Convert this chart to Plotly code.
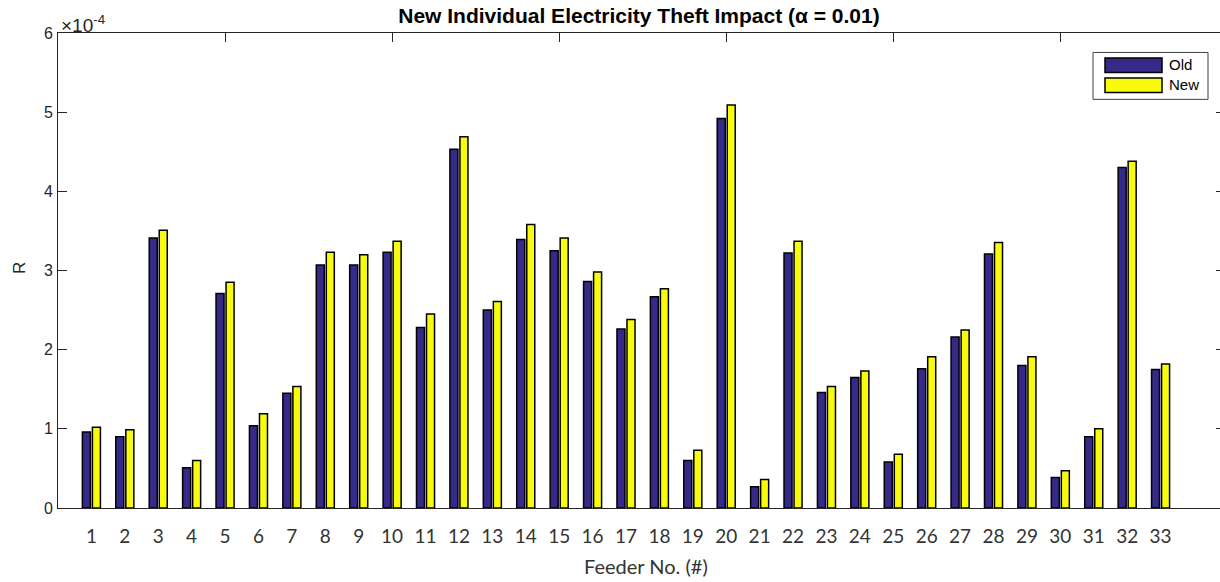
import plotly.graph_objects as go

# Feeder numbers and impact ratio R for the old and new schemes
feeders = list(range(1, 34))
r_old = [0.96, 0.90, 3.41, 0.51, 2.71, 1.04, 1.45, 3.07, 3.07, 3.23,
         2.28, 4.53, 2.50, 3.39, 3.25, 2.86, 2.26, 2.67, 0.60, 4.92,
         0.27, 3.22, 1.46, 1.65, 0.58, 1.76, 2.16, 3.21, 1.80, 0.385,
         0.90, 4.30, 1.75]
r_new = [1.02, 0.99, 3.51, 0.60, 2.85, 1.19, 1.535, 3.23, 3.20, 3.37,
         2.45, 4.69, 2.61, 3.58, 3.41, 2.98, 2.38, 2.77, 0.73, 5.09,
         0.36, 3.37, 1.535, 1.73, 0.68, 1.91, 2.25, 3.355, 1.91, 0.47,
         1.00, 4.38, 1.82]
scale = 1e-4
r_old = [v * scale for v in r_old]
r_new = [v * scale for v in r_new]

y_ticks = [0, 1, 2, 3, 4, 5, 6]
top_ticks = [5, 10, 15, 20, 25, 30]

NAVY = "#352A87"
YELLOW = "#F9FB0E"
AXIS = "#262626"
ARIAL = "Liberation Sans, Arial, sans-serif"
LABEL_FONT = "Lato, Open Sans, sans-serif"

W, H = 1220, 582
L, R_, T, B = 58, 0, 32.5, 73.5
plot_w = W - L - R_
plot_h = H - T - B


def px(x):
    return (x - L) / plot_w


def py(y):
    return (H - B - y) / plot_h


fig = go.Figure()
fig.add_trace(go.Bar(x=feeders, y=r_old, name="Old",
                     marker=dict(color=NAVY, line=dict(color="black", width=1.5)),
                     showlegend=False))
fig.add_trace(go.Bar(x=feeders, y=r_new, name="New",
                     marker=dict(color=YELLOW, line=dict(color="black", width=1.5)),
                     showlegend=False))
# carrier for the top / right frame axes
fig.add_trace(go.Scatter(x=[], y=[], xaxis="x2", yaxis="y2", showlegend=False, hoverinfo="skip"))

x_range = [0, (W - L) / ((1160.5 - 91.35) / 32)]
y_range = [0, 6 * scale]
y_tickvals = [v * scale for v in y_ticks]

fig.update_layout(
    width=W, height=H,
    margin=dict(l=L, r=R_, t=T, b=B),
    paper_bgcolor="white", plot_bgcolor="white",
    barmode="group", bargap=0.40, bargroupgap=0.2,
    title=dict(text="<b>New Individual Electricity Theft Impact (α = 0.01)</b>",
               x=0.5, xref="paper", xanchor="center",
               y=1 - 16 / H, yref="container", yanchor="middle",
               font=dict(family=ARIAL, size=21, color="black")),
    xaxis=dict(range=x_range, tickmode="array", tickvals=feeders, ticktext=[str(f) for f in feeders],
               ticks="", showline=True, linecolor=AXIS, linewidth=1, showgrid=False, zeroline=False,
               tickfont=dict(family=LABEL_FONT, size=19, color="#333333"), ticklabelstandoff=11),
    xaxis2=dict(range=x_range, overlaying="x", side="top", tickmode="array", tickvals=top_ticks,
                ticks="inside", ticklen=9, tickcolor=AXIS, showticklabels=False,
                showline=True, linecolor=AXIS, linewidth=1, showgrid=False, zeroline=False),
    yaxis=dict(range=y_range, tickmode="array", tickvals=y_tickvals,
               ticktext=[str(v) for v in y_ticks], ticks="inside", ticklen=9, tickcolor=AXIS,
               showline=True, linecolor=AXIS, linewidth=1, showgrid=False, zeroline=False,
               tickfont=dict(family=ARIAL, size=16, color=AXIS), ticklabelstandoff=1),
    yaxis2=dict(range=y_range, overlaying="y", side="right", tickmode="array", tickvals=y_tickvals,
                ticks="inside", ticklen=4, tickcolor=AXIS, showticklabels=False,
                showline=False, showgrid=False, zeroline=False),
)

annotations = [
    dict(text="×10<sup>-4</sup>", x=px(59), y=py(23), xanchor="left", yanchor="middle",
         font=dict(family=ARIAL, size=19, color=AXIS)),
    dict(text="R", x=px(19), y=py(268), xanchor="center", yanchor="middle", textangle=-90,
         font=dict(family=ARIAL, size=17, color=AXIS)),
    dict(text="Feeder No. (#)", x=px(646), y=py(567), xanchor="center", yanchor="middle",
         font=dict(family=LABEL_FONT, size=20, color="#333333")),
    dict(text="Old", x=px(1167), y=py(64), xanchor="left", yanchor="middle",
         font=dict(family=ARIAL, size=15, color="black")),
    dict(text="New", x=px(1167), y=py(84.5), xanchor="left", yanchor="middle",
         font=dict(family=ARIAL, size=15, color="black")),
]
for a in annotations:
    a.update(xref="paper", yref="paper", showarrow=False)
fig.update_layout(annotations=annotations)

# legend box with swatches
shapes = [
    dict(type="rect", x0=px(1093), x1=px(1208), y0=py(99), y1=py(52),
         line=dict(color="#404040", width=1), fillcolor="white"),
    dict(type="rect", x0=px(1105), x1=px(1162), y0=py(72), y1=py(57.5),
         line=dict(color="black", width=1.5), fillcolor=NAVY),
    dict(type="rect", x0=px(1105), x1=px(1162), y0=py(92), y1=py(77.5),
         line=dict(color="black", width=1.5), fillcolor=YELLOW),
]
for s in shapes:
    s.update(xref="paper", yref="paper")
fig.update_layout(shapes=shapes)

fig.write_html("out.html")
